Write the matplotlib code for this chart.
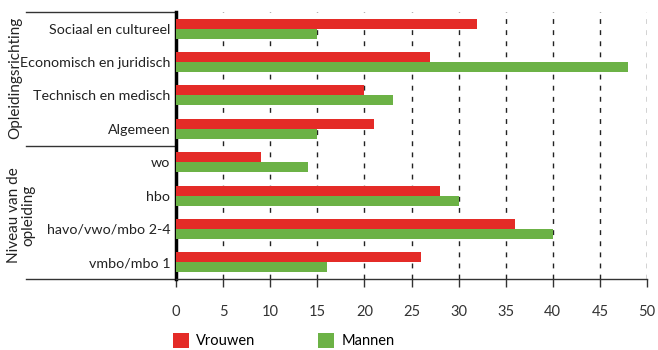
import numpy as np
import matplotlib.pyplot as plt
import matplotlib.transforms as mtransforms

categories = ['Sociaal en cultureel', 'Economisch en juridisch', 'Technisch en medisch',
              'Algemeen', 'wo', 'hbo', 'havo/vwo/mbo 2-4', 'vmbo/mbo 1']
vrouwen = [32, 27, 20, 21, 9, 28, 36, 26]
mannen = [15, 48, 23, 15, 14, 30, 40, 16]
groups = ['Opleidingsrichting', 'Niveau van de\nopleiding']
xticks = [0, 5, 10, 15, 20, 25, 30, 35, 40, 45, 50]

plt.rcParams['font.family'] = ['Lato', 'DejaVu Sans']
red = '#e42b27'
green = '#6cb246'

fig = plt.figure(figsize=(6.58, 3.5), dpi=100)
ax = fig.add_axes([176/658, 1-279/350, 471/658, 267/350])

y = np.arange(len(categories))
h = 0.3
ax.barh(y - h/2, vrouwen, height=h, color=red, label='Vrouwen', zorder=3)
ax.barh(y + h/2, mannen, height=h, color=green, label='Mannen', zorder=3)

ax.set_ylim(len(categories) - 0.5, -0.5)
ax.set_xlim(0, 50)
ax.set_xticks(xticks)
ax.set_xticklabels([str(t) for t in xticks], fontsize=10.5, color='#333333')
ax.set_yticks(y)
ax.set_yticklabels(categories, fontsize=10.3, color='#222222')
ax.tick_params(axis='y', length=0, pad=4)
ax.tick_params(axis='x', direction='out', length=6, width=1, color='#333333', pad=13)

for t in xticks[1:]:
    ax.axvline(t, color='#222222', lw=1, ls=(0, (3.5, 4.5)), zorder=1)

for s in ['top', 'right']:
    ax.spines[s].set_visible(False)
ax.spines['left'].set_linewidth(2.5)
ax.spines['left'].set_color('black')
ax.spines['bottom'].set_color('#333333')
ax.spines['bottom'].set_linewidth(1)

# group bracket lines
tr = mtransforms.blended_transform_factory(ax.transAxes, ax.transData)
x0 = (26 - 176) / 471
for yy in [-0.5, 3.5, 7.5]:
    ax.plot([x0, 0], [yy, yy], transform=tr, color='#333333', lw=1, clip_on=False)

fig.text(15/658, 1-78/350, groups[0], rotation=90, ha='center', va='center', fontsize=11, color='#222222')
fig.text(21/658, 1-215/350, groups[1], rotation=90, ha='center', va='center', fontsize=11,
         color='#222222', linespacing=1.0)

ax.legend(loc='upper left', bbox_to_anchor=(173/658, 1-333/350), bbox_transform=fig.transFigure,
          ncol=2, frameon=False, fontsize=10.5, handlelength=1.1, handleheight=1.2,
          columnspacing=4.3, handletextpad=0.5, borderpad=0, borderaxespad=0)

fig.savefig('out.png', dpi=100)
